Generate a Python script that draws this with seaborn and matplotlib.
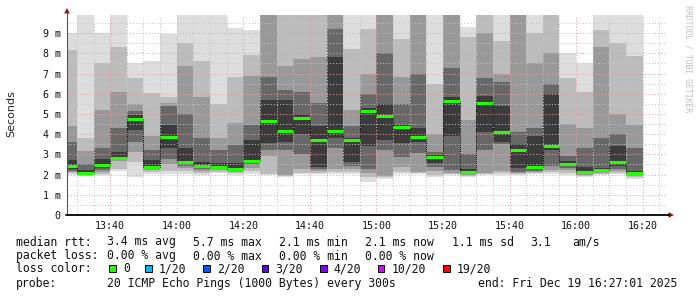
import matplotlib
matplotlib.use("Agg")
import numpy as np
import pandas as pd
import seaborn as sns
import matplotlib.pyplot as plt
import matplotlib.dates as mdates
from matplotlib.lines import Line2D
from matplotlib.patches import Polygon, Rectangle
from matplotlib.ticker import MultipleLocator, FuncFormatter

# ---------------- data (milliseconds) ----------------
bar_start = pd.date_range("2025-12-19 13:25", periods=35, freq="5min")

median_ms = [2.42, 2.07, 2.46, 2.82, 4.75, 2.36, 3.88, 2.62, 2.43, 2.40,
             2.26, 2.67, 4.67, 4.15, 4.82, 3.71, 4.17, 3.71, 5.15, 4.92,
             4.37, 3.88, 2.89, 5.66, 2.15, 5.53, 4.13, 3.22, 2.39, 3.40,
             2.51, 2.11, 2.23, 2.62, 2.07]

# smoke band edges above the median (outermost = max ping)
smoke_hi_1 = [9.0, 10, 9.0, 10, 7.5, 7.6, 8.95, 10, 10, 10,
              9.25, 9.15, 10, 10, 10, 10, 10, 10, 10, 10,
              10, 10, 10, 10, 9.3, 10, 10, 10, 10, 10,
              8.0, 7.5, 10, 10, 10]
smoke_hi_2 = [8.15, 3.8, 7.5, 8.3, 6.8, 6.05, 5.85, 8.5, 7.6, 5.5,
              6.85, 7.9, 10, 10, 10, 10, 10, 8.2, 9.2, 10,
              8.7, 10, 6.5, 10, 8.8, 10, 8.6, 10, 9.0, 10,
              6.8, 6.1, 9.15, 8.5, 7.85]
smoke_hi_3 = [4.4, 3.15, 5.2, 6.1, 5.5, 3.9, 5.55, 7.4, 5.85, 3.8,
              4.55, 6.9, 10, 7.4, 7.7, 7.8, 10, 5.2, 7.0, 10,
              6.85, 10, 4.0, 10, 4.7, 9.0, 7.0, 10, 7.5, 8.0,
              4.5, 4.3, 8.3, 5.0, 4.45]
smoke_hi_4 = [3.6, 2.5, 3.3, 4.3, 5.15, 3.2, 5.4, 5.0, 3.8, 3.2,
              3.45, 4.45, 6.85, 6.2, 6.1, 5.55, 9.2, 4.4, 6.0, 8.0,
              5.5, 7.0, 3.1, 7.3, 3.0, 6.8, 6.6, 4.1, 4.3, 6.5,
              2.9, 3.3, 3.8, 4.0, 3.3]
smoke_hi_5 = [2.7, 2.25, 2.75, 3.1, 4.95, 2.7, 4.45, 3.3, 2.6, 2.56,
              2.55, 3.7, 5.7, 5.7, 5.0, 4.4, 7.8, 3.8, 5.3, 5.5,
              4.45, 4.3, 2.95, 5.85, 2.3, 5.9, 5.4, 3.5, 3.9, 6.0,
              2.65, 2.4, 2.35, 3.4, 2.2]

# smoke band edges below the median (outermost = min ping)
smoke_lo_1 = [2.0, 1.95, 1.97, 2.2, 1.9, 2.05, 2.05, 2.05, 2.0, 2.08,
              2.0, 2.05, 2.0, 1.9, 2.05, 2.05, 2.05, 2.05, 1.65, 1.8,
              2.05, 2.05, 1.9, 2.0, 1.9, 2.0, 2.0, 2.0, 2.05, 2.05,
              1.98, 1.88, 2.0, 2.03, 1.8]
smoke_lo_2 = [2.1, 2.0, 2.05, 2.3, 2.6, 2.15, 2.2, 2.2, 2.1, 2.15,
              2.08, 2.2, 2.05, 1.95, 2.1, 2.1, 2.15, 2.15, 1.9, 1.9,
              2.15, 2.1, 2.0, 2.05, 1.95, 2.03, 2.1, 2.05, 2.1, 2.15,
              2.1, 1.95, 2.05, 2.1, 1.9]
smoke_lo_3 = [2.15, 2.02, 2.15, 2.65, 3.1, 2.22, 2.5, 2.35, 2.2, 2.25,
              2.15, 2.35, 2.9, 2.0, 2.3, 2.2, 2.3, 2.3, 2.1, 1.95,
              2.4, 2.15, 2.2, 2.1, 2.0, 2.06, 2.2, 2.1, 2.15, 2.25,
              2.25, 2.0, 2.1, 2.2, 1.95]
smoke_lo_4 = [2.2, 2.04, 2.25, 2.7, 3.6, 2.27, 2.75, 2.45, 2.3, 2.3,
              2.2, 2.5, 3.2, 3.2, 3.0, 2.3, 3.3, 2.45, 2.3, 3.2,
              2.85, 3.05, 2.4, 2.25, 2.05, 3.2, 3.5, 2.15, 2.2, 2.45,
              2.35, 2.05, 2.15, 2.3, 2.0]
smoke_lo_5 = [2.3, 2.05, 2.35, 2.75, 4.2, 2.31, 3.3, 2.55, 2.38, 2.35,
              2.23, 2.6, 3.55, 3.6, 4.0, 2.4, 3.8, 2.6, 3.4, 3.7,
              3.55, 3.6, 2.55, 3.9, 2.1, 4.1, 3.6, 2.35, 2.3, 3.2,
              2.42, 2.08, 2.2, 2.45, 2.04]

loss_labels = ["0", "1/20", "2/20", "3/20", "4/20", "10/20", "19/20"]
loss_colors = ["#26ff00", "#00b8ff", "#0059ff", "#5e00ff", "#7e00ff", "#dd00ff", "#ff0000"]

legend_rtt = ["median rtt:", "3.4 ms avg", "5.7 ms max", "2.1 ms min",
              "2.1 ms now", "1.1 ms sd", "3.1", "am/s"]
legend_loss = ["packet loss:", "0.00 % avg", "0.00 % max", "0.00 % min", "0.00 % now"]
probe_text = "20 ICMP Echo Pings (1000 Bytes) every 300s"
end_text = "end: Fri Dec 19 16:27:01 2025"

# ---------------- style ----------------
sns.set_theme(style="white")
plt.rcParams['font.family'] = ['DejaVu Sans']
MONO = 'DejaVu Sans Mono'

W, H = 697, 297
fig = plt.figure(figsize=(W / 100, H / 100), dpi=100)
fig.patch.set_facecolor('white')


def fx(px):
    return px / W


def fy(py):
    return 1 - py / H


Y_TOP = 9.9
ax = fig.add_axes([fx(67), fy(215), (666 - 67) / W, 200 / H])
ax.set_facecolor('white')

t = mdates.date2num(bar_start.to_pydatetime())
step = 5 / 1440.0
med = np.array(median_ms)

hi = [smoke_hi_1, smoke_hi_2, smoke_hi_3, smoke_hi_4, smoke_hi_5]
lo = [smoke_lo_1, smoke_lo_2, smoke_lo_3, smoke_lo_4, smoke_lo_5]
band_colors = ['#dddddd', '#bcbcbc', '#999999', '#686868', '#3b3b3b']
for k in range(5):
    top = np.minimum(np.array(hi[k], float), Y_TOP)
    bot = np.array(lo[k], float)
    ax.bar(t, top - bot, bottom=bot, width=step, align='edge',
           color=band_colors[k], linewidth=0, antialiased=False, zorder=1)

# black dotted step connecting medians
edges = np.append(t, t[-1] + step)
step_df = pd.DataFrame({"x": edges, "y": np.append(med, med[-1])})
sns.lineplot(data=step_df, x="x", y="y", ax=ax, drawstyle='steps-post',
             estimator=None, sort=False, color='black', lw=0.75,
             linestyle=(0, (1, 1)), zorder=2.8)
# green median segments
ax.hlines(med, t, t + step, colors=loss_colors[0], lw=2.2, zorder=3)

x0 = mdates.date2num(pd.Timestamp("2025-12-19 13:27:01").to_pydatetime())
x1 = mdates.date2num(pd.Timestamp("2025-12-19 16:27:01").to_pydatetime())
ax.set_xlim(x0, x1)
ax.set_ylim(0, Y_TOP)
ax.set_xlabel("")
ax.set_ylabel("")

ax.xaxis.set_major_locator(mdates.MinuteLocator(byminute=[0, 20, 40]))
ax.xaxis.set_minor_locator(mdates.MinuteLocator(byminute=list(range(0, 60, 5))))
ax.xaxis.set_major_formatter(mdates.DateFormatter('%H:%M'))
ax.yaxis.set_major_locator(MultipleLocator(1))
ax.yaxis.set_minor_locator(MultipleLocator(0.5))
ax.yaxis.set_major_formatter(FuncFormatter(lambda v, p: '0' if abs(v) < 1e-9 else f'{int(round(v))} m'))

ax.set_axisbelow(False)
ax.grid(which='minor', color='#c4c4c4', lw=0.75, ls=(0, (1, 2)))
ax.grid(which='major', color='#e9a0a0', lw=0.75, ls=(0, (1, 2)))
ax.tick_params(which='both', length=0)
ax.tick_params(axis='x', pad=4.2, labelsize=7.2, labelcolor='#111', labelfontfamily=MONO)
ax.tick_params(axis='y', pad=4.6, labelsize=7.2, labelcolor='#111', labelfontfamily=MONO)
for s in ax.spines.values():
    s.set_visible(False)

# axes lines and arrows
fig.add_artist(Line2D([fx(67), fx(67)], [fy(215), fy(12)], color='#555555', lw=0.8,
                      transform=fig.transFigure))
fig.add_artist(Line2D([fx(66), fx(669)], [fy(215), fy(215)], color='black', lw=1.3,
                      transform=fig.transFigure))
fig.add_artist(Polygon([[fx(64.2), fy(13.5)], [fx(69.8), fy(13.5)], [fx(67), fy(8)]],
                       closed=True, transform=fig.transFigure, color='#8f1010', lw=0))
fig.add_artist(Polygon([[fx(668.5), fy(212.2)], [fx(668.5), fy(217.8)], [fx(674), fy(215)]],
                       closed=True, transform=fig.transFigure, color='#8f1010', lw=0))

# labels
fig.text(fx(11), fy(113.5), 'Seconds', rotation=90, ha='center', va='center',
         fontsize=8, color='#222222')
fig.text(fx(688), fy(59), 'RRDTOOL / TOBI OETIKER', rotation=270, ha='center', va='center',
         fontsize=5.9, family=MONO, color='#c0c0c0')

FS = 8.3
rtt_x = [16, 107, 193, 279, 365, 451.5, 530, 572]
for s, xp in zip(legend_rtt, rtt_x):
    fig.text(fx(xp), fy(245.5), s, ha='left', va='baseline', fontsize=FS, family=MONO, color='#111')
loss_x = [16, 107, 193, 279, 365]
for s, xp in zip(legend_loss, loss_x):
    fig.text(fx(xp), fy(259.5), s, ha='left', va='baseline', fontsize=FS, family=MONO, color='#111')
fig.text(fx(16), fy(272.5), 'loss color:', ha='left', va='baseline', fontsize=FS, family=MONO, color='#111')
sq_x = [109.3, 145, 203.3, 261.7, 320, 377.7, 443.3]
for lab, col, xp in zip(loss_labels, loss_colors, sq_x):
    fig.add_artist(Rectangle((fx(xp), fy(271.5)), 6.5 / W, 6.8 / H, transform=fig.transFigure,
                             facecolor=col, edgecolor='black', lw=0.7))
    fig.text(fx(xp + 13.5), fy(272.5), lab, ha='left', va='baseline', fontsize=FS, family=MONO, color='#111')
fig.text(fx(16), fy(287), 'probe:', ha='left', va='baseline', fontsize=FS, family=MONO, color='#111')
fig.text(fx(107), fy(287), probe_text, ha='left', va='baseline', fontsize=FS, family=MONO, color='#111')
fig.text(fx(478), fy(287), end_text, ha='left', va='baseline', fontsize=FS, family=MONO, color='#111')

fig.savefig("out.png", dpi=100, facecolor='white')
